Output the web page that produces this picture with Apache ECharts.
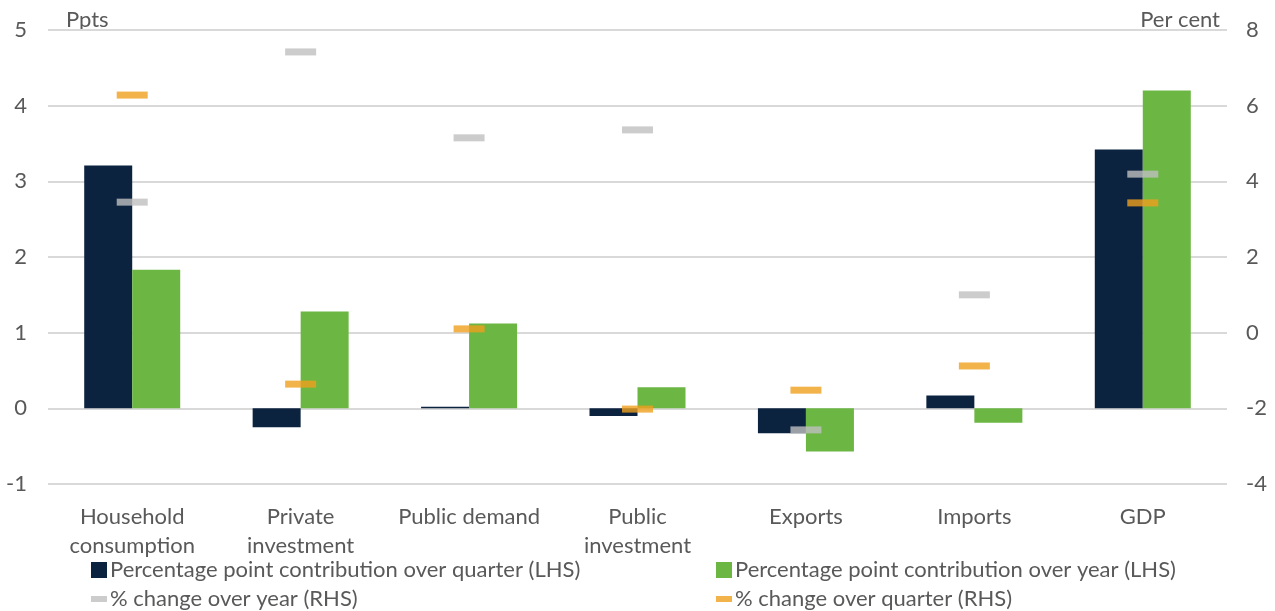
<!DOCTYPE html>
<html>
<head>
<meta charset="utf-8">
<script src="https://cdn.jsdelivr.net/npm/echarts@6/dist/echarts.min.js"></script>
<style>
  html, body { margin: 0; padding: 0; background: #ffffff; }
  #chart { width: 1275px; height: 611px; }
</style>
</head>
<body>
<div id="chart"></div>
<script>
// categories along the bottom
const categories = [
  "Household\nconsumption",
  "Private\ninvestment",
  "Public demand",
  "Public\ninvestment",
  "Exports",
  "Imports",
  "GDP",
];

// LHS: percentage point contributions
const contribQuarter = [3.21, -0.25, 0.02, -0.1, -0.33, 0.17, 3.42];
const contribYear = [1.83, 1.28, 1.12, 0.28, -0.57, -0.19, 4.2];

// RHS: per cent changes
const changeYear = [3.45, 7.42, 5.15, 5.36, -2.57, 1.0, 4.19];
const changeQuarter = [6.28, -1.36, 0.1, -2.02, -1.52, -0.88, 3.43];

const names = [
  "Percentage point contribution over quarter (LHS)",
  "Percentage point contribution over year (LHS)",
  "% change over year (RHS)",
  "% change over quarter (RHS)",
];

const textColor = "#595959";
const fontFamily = "Lato, 'Open Sans', sans-serif";
const fs = 22;

const chart = echarts.init(document.getElementById("chart"));

// one legend per item so they sit in a 2x2 grid
function legendItem(name, left, top, square) {
  return {
    data: [name],
    left: left,
    top: top,
    padding: 0,
    itemWidth: 16,
    itemHeight: square ? 16 : 6,
    itemGap: 3,
    icon: "rect",
    textStyle: { color: textColor, fontSize: fs, fontFamily: fontFamily, padding: [0, 0, 0, -2] },
  };
}

const option = {
  backgroundColor: "#ffffff",
  animation: false,
  textStyle: { fontFamily: fontFamily },
  grid: { left: 48, right: 48, top: 30, bottom: 127, containLabel: false },
  legend: [
    legendItem(names[0], 91, 559, true),
    legendItem(names[1], 716, 559, true),
    legendItem(names[2], 91, 588, false),
    legendItem(names[3], 716, 588, false),
  ],
  graphic: [
    {
      type: "text",
      left: 66,
      top: 9,
      style: { text: "Ppts", fill: textColor, fontSize: fs, fontFamily: fontFamily },
    },
    {
      type: "text",
      right: 55,
      top: 9,
      style: { text: "Per cent", fill: textColor, fontSize: fs, fontFamily: fontFamily },
    },
  ],
  xAxis: {
    type: "category",
    data: categories,
    axisLine: { show: false },
    axisTick: { show: false },
    axisLabel: {
      color: textColor,
      fontSize: fs,
      lineHeight: 29,
      margin: 18,
      interval: 0,
    },
  },
  yAxis: [
    {
      type: "value",
      min: -1,
      max: 5,
      interval: 1,
      axisLine: { show: false },
      axisTick: { show: false },
      splitLine: { lineStyle: { color: "#d9d9d9", width: 2 } },
      axisLabel: { color: textColor, fontSize: fs, margin: 21 },
    },
    {
      type: "value",
      min: -4,
      max: 8,
      interval: 2,
      axisLine: { show: false },
      axisTick: { show: false },
      splitLine: { show: false },
      axisLabel: { color: textColor, fontSize: fs, margin: 19 },
    },
  ],
  series: [
    {
      name: names[0],
      type: "bar",
      yAxisIndex: 0,
      data: contribQuarter,
      barWidth: 48,
      barGap: "0%",
      itemStyle: { color: "#0c2340" },
    },
    {
      name: names[1],
      type: "bar",
      yAxisIndex: 0,
      data: contribYear,
      barWidth: 48,
      barGap: "0%",
      itemStyle: { color: "#6cb644" },
    },
    {
      name: names[2],
      type: "scatter",
      yAxisIndex: 1,
      data: changeYear,
      symbol: "rect",
      symbolSize: [31, 7],
      itemStyle: { color: "#bfbfbf" },
      z: 5,
    },
    {
      name: names[3],
      type: "scatter",
      yAxisIndex: 1,
      data: changeQuarter,
      symbol: "rect",
      symbolSize: [31, 7],
      itemStyle: { color: "#f0a01e" },
      z: 5,
    },
  ],
};

chart.setOption(option);
</script>
</body>
</html>
